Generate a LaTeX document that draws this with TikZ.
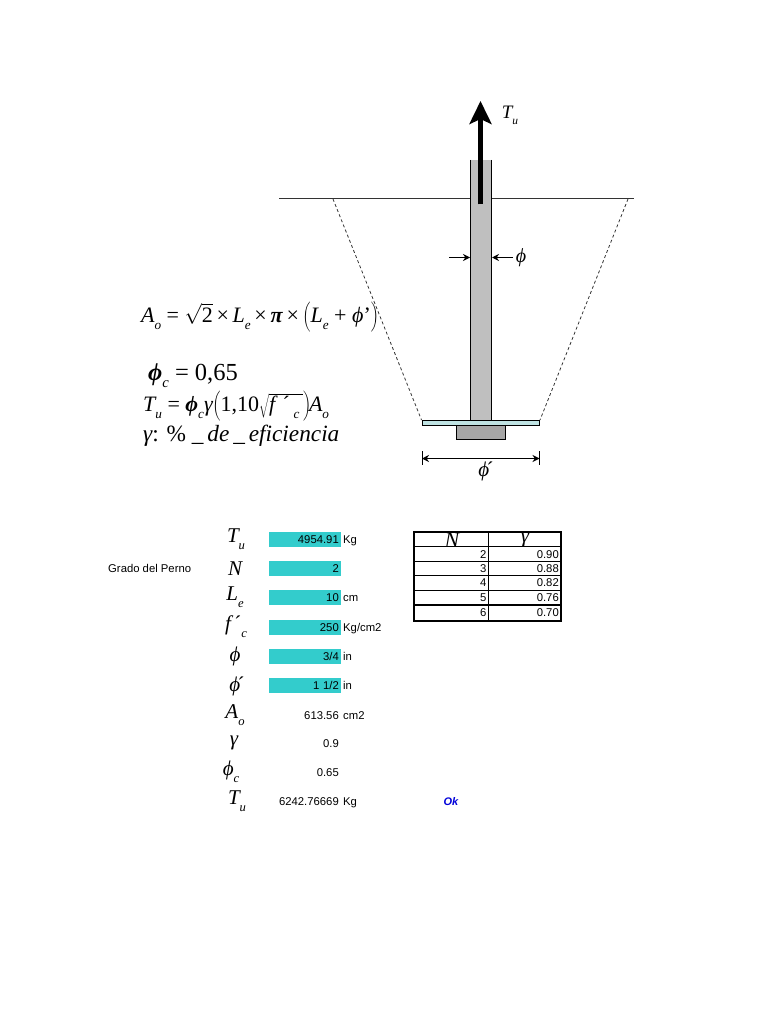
\documentclass[tikz,border=0pt]{standalone}
\usepackage{fontspec}
\usepackage{graphicx}
\setmainfont{Liberation Serif}
\setsansfont{Liberation Sans}
\usetikzlibrary{arrows.meta}
\definecolor{barcolor}{HTML}{33CCCC}
\definecolor{platecolor}{HTML}{BFE3E3}
\newcommand{\fii}{{\itshape ϕ}}
\newcommand{\gam}{{\itshape γ}}
\newcommand{\var}[1]{{\itshape #1}}
\newcommand{\sbs}[1]{\raisebox{-.32em}{\scalebox{.6}{\itshape #1}}}
\newcommand{\rootof}[1]{$\sqrt{\hbox{#1}}$}
\newcommand{\bigpar}[1]{$\left(\vphantom{\sqrt{\hbox{$L$}}}\hbox{#1}\right)$}
\tikzset{
	eqn/.style={anchor=base west, inner sep=0pt, font=\fontsize{22}{24}\selectfont},
	eqnbig/.style={eqn, font=\fontsize{24.5}{26}\selectfont},
	eqnmid/.style={eqn, font=\fontsize{23.3}{25}\selectfont},
	sym/.style={inner sep=0pt, font=\fontsize{21}{23}\selectfont},
	sans/.style={text height=8pt, text depth=0pt, font=\sffamily\fontsize{11.3}{13}\selectfont},
	bar/.style={sans, fill=barcolor, minimum height=15pt, text width=68pt, inner sep=2pt, anchor=east, align=right},
	val/.style={sans, inner sep=2pt, anchor=east},
	unit/.style={sans, inner sep=2pt, anchor=west},
	cell/.style={sans, inner sep=0pt, anchor=east},
	dim/.style={line width=1pt, -{Stealth[length=7pt,width=7pt]}},
}
\begin{document}
\begin{tikzpicture}[x=1pt,y=-1pt]
		\useasboundingbox (0,0) rectangle (768,1024);
		%%%%% BOLT %%%%%
		
		\fill[black!25] (470.3,160) rectangle (491.5,420);
		\draw[line width=0.9pt] (470.3,160) -- (470.3,420);
		\draw[line width=0.9pt] (491.5,160) -- (491.5,420);
		\draw[line width=1pt, black!80] (279,198.7) -- (470.3,198.7);
		\draw[line width=1pt, black!80] (491.5,198.7) -- (633.5,198.7);
		\draw[line width=0.8pt, black!80, dash pattern=on 3pt off 2.5pt] (333,199) -- (421.5,420);
		\draw[line width=0.8pt, black!80, dash pattern=on 3pt off 2.5pt] (628,199) -- (540,420);
		\draw[line width=0.9pt, fill=platecolor] (422,420.3) rectangle (539.5,425.6);
		\draw[line width=0.9pt, fill=black!35] (456.5,425.6) rectangle (505.5,439);
		
		\coordinate (loadbase) at (480.5,204.5);
		\coordinate (loadtip) at (480.5,101);
		\draw[line width=4.4pt, -{Stealth[length=23pt,width=22pt,inset=5pt]}] (loadbase) -- (loadtip);
		\node[sym, font=\fontsize{19}{21}\selectfont] (loadlabel) at (510,115) {\var{T}\sbs{u}};
		
		%%%%% DIMENSIONS %%%%%
		
		\coordinate (boltleft) at (470,257.5);
		\coordinate (boltright) at (492,257.5);
		\coordinate (dimleft) at (449,257.5);
		\coordinate (dimright) at (513,257.5);
		\draw[dim] (dimleft) -- (boltleft);
		\draw[dim] (dimright) -- (boltright);
		\node[sym, font=\fontsize{20}{22}\selectfont] (boltlabel) at (521,258) {\fii};
		
		\coordinate (platetl) at (422,451);
		\coordinate (platebl) at (422,465);
		\coordinate (platetr) at (539.5,451);
		\coordinate (platebr) at (539.5,465);
		\coordinate (platel) at (422,458.5);
		\coordinate (plater) at (539.5,458.5);
		\draw[line width=1pt] (platetl) -- (platebl);
		\draw[line width=1pt] (platetr) -- (platebr);
		\draw[line width=1pt, {Stealth[length=7pt,width=7pt]}-{Stealth[length=7pt,width=7pt]}] (platel) -- (plater);
		\node[sym] (platelabel) at (486,471) {\fii\kern-.12em´};
		
		%%%%% FORMULAS %%%%%
		
		\node[eqn] (areaeq) at (141,322) {\var{A}\sbs{o} = \rootof{2}\,×\,\var{L}\sbs{e}\,×\,\textbf{\itshape π}\,×\,\bigpar{\var{L}\sbs{e} + \fii'}};
		\node[eqnbig] (phieq) at (148,380) {\textbf{\fii}\sbs{c} = 0,65};
		\node[eqn] (loadeq) at (143,411) {\smash{\var{T}\sbs{u} = \textbf{\fii}\sbs{c}\gam\bigpar{1,10\rootof{\var{f}\,\,´\,\sbs{c}\,}}\kern-2pt\var{A}\sbs{o}}};
		\node[eqnmid] (gammaeq) at (143,441) {\gam : \% \_\,\var{de}\,\_\,\var{eficiencia}};
		
		%%%%% DATA %%%%%
		
		\node[sans, inner sep=0pt, anchor=west] (grade) at (108,568) {Grado del Perno};
		
		\node[sym] (s1) at (236,539) {\var{T}\sbs{u}};
		\node[bar] (b1) at (341,539) {4954.91};
		\node[unit] at (b1.east) (u1) {Kg};
		\node[sym] (s2) at (235,568.5) {\var{N}};
		\node[bar] (b2) at (341,568.5) {2};
		\node[sym] (s3) at (235,597) {\var{L}\sbs{e}};
		\node[bar] (b3) at (341,597.5) {10};
		\node[unit] at (b3.east) (u3) {cm};
		\node[sym] (s4) at (236,627) {\var{f}\,´\sbs{c}};
		\node[bar] (b4) at (341,627) {250};
		\node[unit] at (b4.east) (u4) {Kg/cm2};
		\node[sym] (s5) at (235,656) {\fii};
		\node[bar] (b5) at (341,656.5) {3/4};
		\node[unit] at (b5.east) (u5) {in};
		\node[sym] (s6) at (237,686) {\fii\kern-.12em´};
		\node[bar] (b6) at (341,685.5) {1 1/2};
		\node[unit] at (b6.east) (u6) {in};
		\node[sym] (s7) at (235,715) {\var{A}\sbs{o}};
		\node[val] (v7) at (341,715) {613.56};
		\node[unit] at (v7.east) (u7) {cm2};
		\node[sym] (s8) at (234,743) {\gam};
		\node[val] (v8) at (341,743.5) {0.9};
		\node[sym] (s9) at (231,772) {\fii\sbs{c}};
		\node[val] (v9) at (341,772) {0.65};
		\node[sym] (s10) at (237,801) {\var{T}\sbs{u}};
		\node[val] (v10) at (341,801) {6242.76669};
		\node[unit] at (v10.east) (u10) {Kg};
		\node[inner sep=0pt, text=blue!85!black, font=\sffamily\bfseries\itshape\fontsize{11}{13}\selectfont] (check) at (451,802) {Ok};
		
		%%%%% TABLE %%%%%
		
		\draw[line width=2pt] (414,532) rectangle (561,621);
		\draw[line width=0.9pt] (488.4,532) -- (488.4,621);
		\draw[line width=0.9pt] (414,546.8) -- (561,546.8);
		\draw[line width=0.9pt] (414,561.2) -- (561,561.2);
		\draw[line width=0.9pt] (414,575.5) -- (561,575.5);
		\draw[line width=0.9pt] (414,590) -- (561,590);
		\draw[line width=1.6pt] (414,605) -- (561,605);
		\node[sym, font=\fontsize{22}{24}\selectfont] (headn) at (452,540) {\var{N}};
		\node[sym] (headg) at (525,540) {\gam};
		\node[cell] (n2) at (486.5,554) {2};
		\node[cell] (g2) at (559,554) {0.90};
		\node[cell] (n3) at (486.5,568.3) {3};
		\node[cell] (g3) at (559,568.3) {0.88};
		\node[cell] (n4) at (486.5,582.7) {4};
		\node[cell] (g4) at (559,582.7) {0.82};
		\node[cell] (n5) at (486.5,597) {5};
		\node[cell] (g5) at (559,597) {0.76};
		\node[cell] (n6) at (486.5,612) {6};
		\node[cell] (g6) at (559,612) {0.70};
		
		%%%%% END %%%%%
	\end{tikzpicture}
\end{document}
